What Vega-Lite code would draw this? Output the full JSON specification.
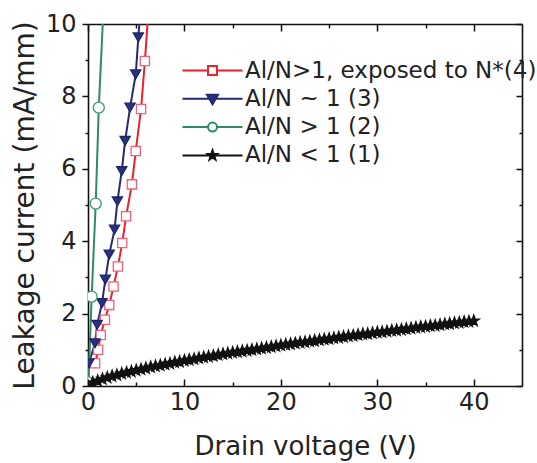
{
  "$schema": "https://vega.github.io/schema/vega-lite/v6.json",
  "width": 434,
  "height": 362,
  "autosize": "none",
  "padding": {"left": 88, "top": 24, "right": 15, "bottom": 77},
  "background": "white",
  "config": {
    "font": "DejaVu Sans",
    "view": {"stroke": null},
    "axis": {
      "grid": false,
      "domainColor": "#111",
      "domainWidth": 1.6,
      "tickColor": "#111",
      "tickWidth": 1.5,
      "labelColor": "#222",
      "labelFont": "DejaVu Sans",
      "labelFontSize": 24,
      "titleFont": "DejaVu Sans",
      "titleColor": "#222",
      "titleFontWeight": "normal",
      "labelFlush": false,
      "labelOverlap": false
    }
  },
  "datasets": {
    "curves": [
      {"series": "Al/N>1, exposed to N*(4)", "v": 0.74, "i": 0.63},
      {"series": "Al/N>1, exposed to N*(4)", "v": 1.05, "i": 1.0},
      {"series": "Al/N>1, exposed to N*(4)", "v": 1.32, "i": 1.41},
      {"series": "Al/N>1, exposed to N*(4)", "v": 1.75, "i": 1.83},
      {"series": "Al/N>1, exposed to N*(4)", "v": 2.2, "i": 2.24},
      {"series": "Al/N>1, exposed to N*(4)", "v": 2.65, "i": 2.75},
      {"series": "Al/N>1, exposed to N*(4)", "v": 3.1, "i": 3.3},
      {"series": "Al/N>1, exposed to N*(4)", "v": 3.55, "i": 3.95},
      {"series": "Al/N>1, exposed to N*(4)", "v": 3.95, "i": 4.69},
      {"series": "Al/N>1, exposed to N*(4)", "v": 4.55, "i": 5.57},
      {"series": "Al/N>1, exposed to N*(4)", "v": 4.95, "i": 6.49},
      {"series": "Al/N>1, exposed to N*(4)", "v": 5.5, "i": 7.65},
      {"series": "Al/N>1, exposed to N*(4)", "v": 5.9, "i": 8.98},
      {"series": "Al/N>1, exposed to N*(4)", "v": 6.3, "i": 10.5},
      {"series": "Al/N ~ 1 (3)", "v": 0.1, "i": 0.63},
      {"series": "Al/N ~ 1 (3)", "v": 0.72, "i": 1.18},
      {"series": "Al/N ~ 1 (3)", "v": 0.95, "i": 1.69},
      {"series": "Al/N ~ 1 (3)", "v": 1.45, "i": 2.29},
      {"series": "Al/N ~ 1 (3)", "v": 1.8, "i": 2.94},
      {"series": "Al/N ~ 1 (3)", "v": 2.2, "i": 3.63},
      {"series": "Al/N ~ 1 (3)", "v": 2.75, "i": 4.32},
      {"series": "Al/N ~ 1 (3)", "v": 3.05, "i": 5.1},
      {"series": "Al/N ~ 1 (3)", "v": 3.5, "i": 5.94},
      {"series": "Al/N ~ 1 (3)", "v": 3.85, "i": 6.77},
      {"series": "Al/N ~ 1 (3)", "v": 4.36, "i": 7.69},
      {"series": "Al/N ~ 1 (3)", "v": 4.95, "i": 8.61},
      {"series": "Al/N ~ 1 (3)", "v": 5.22, "i": 9.63},
      {"series": "Al/N ~ 1 (3)", "v": 5.5, "i": 10.6},
      {"series": "Al/N > 1 (2)", "v": 0.05, "i": 0.1},
      {"series": "Al/N > 1 (2)", "v": 0.38, "i": 2.47},
      {"series": "Al/N > 1 (2)", "v": 0.8, "i": 5.04},
      {"series": "Al/N > 1 (2)", "v": 1.12, "i": 7.69},
      {"series": "Al/N > 1 (2)", "v": 1.6, "i": 10.4},
      {"series": "Al/N < 1 (1)", "v": 0, "i": 0.0},
      {"series": "Al/N < 1 (1)", "v": 0.5, "i": 0.09},
      {"series": "Al/N < 1 (1)", "v": 1, "i": 0.14},
      {"series": "Al/N < 1 (1)", "v": 1.5, "i": 0.19},
      {"series": "Al/N < 1 (1)", "v": 2, "i": 0.23},
      {"series": "Al/N < 1 (1)", "v": 2.5, "i": 0.27},
      {"series": "Al/N < 1 (1)", "v": 3, "i": 0.3},
      {"series": "Al/N < 1 (1)", "v": 3.5, "i": 0.34},
      {"series": "Al/N < 1 (1)", "v": 4, "i": 0.37},
      {"series": "Al/N < 1 (1)", "v": 4.5, "i": 0.4},
      {"series": "Al/N < 1 (1)", "v": 5, "i": 0.43},
      {"series": "Al/N < 1 (1)", "v": 5.5, "i": 0.46},
      {"series": "Al/N < 1 (1)", "v": 6, "i": 0.49},
      {"series": "Al/N < 1 (1)", "v": 6.5, "i": 0.52},
      {"series": "Al/N < 1 (1)", "v": 7, "i": 0.55},
      {"series": "Al/N < 1 (1)", "v": 7.5, "i": 0.57},
      {"series": "Al/N < 1 (1)", "v": 8, "i": 0.6},
      {"series": "Al/N < 1 (1)", "v": 8.5, "i": 0.62},
      {"series": "Al/N < 1 (1)", "v": 9, "i": 0.65},
      {"series": "Al/N < 1 (1)", "v": 9.5, "i": 0.67},
      {"series": "Al/N < 1 (1)", "v": 10, "i": 0.7},
      {"series": "Al/N < 1 (1)", "v": 10.5, "i": 0.72},
      {"series": "Al/N < 1 (1)", "v": 11, "i": 0.74},
      {"series": "Al/N < 1 (1)", "v": 11.5, "i": 0.77},
      {"series": "Al/N < 1 (1)", "v": 12, "i": 0.79},
      {"series": "Al/N < 1 (1)", "v": 12.5, "i": 0.81},
      {"series": "Al/N < 1 (1)", "v": 13, "i": 0.83},
      {"series": "Al/N < 1 (1)", "v": 13.5, "i": 0.86},
      {"series": "Al/N < 1 (1)", "v": 14, "i": 0.88},
      {"series": "Al/N < 1 (1)", "v": 14.5, "i": 0.9},
      {"series": "Al/N < 1 (1)", "v": 15, "i": 0.92},
      {"series": "Al/N < 1 (1)", "v": 15.5, "i": 0.94},
      {"series": "Al/N < 1 (1)", "v": 16, "i": 0.96},
      {"series": "Al/N < 1 (1)", "v": 16.5, "i": 0.98},
      {"series": "Al/N < 1 (1)", "v": 17, "i": 1.0},
      {"series": "Al/N < 1 (1)", "v": 17.5, "i": 1.02},
      {"series": "Al/N < 1 (1)", "v": 18, "i": 1.04},
      {"series": "Al/N < 1 (1)", "v": 18.5, "i": 1.06},
      {"series": "Al/N < 1 (1)", "v": 19, "i": 1.08},
      {"series": "Al/N < 1 (1)", "v": 19.5, "i": 1.1},
      {"series": "Al/N < 1 (1)", "v": 20, "i": 1.12},
      {"series": "Al/N < 1 (1)", "v": 20.5, "i": 1.14},
      {"series": "Al/N < 1 (1)", "v": 21, "i": 1.16},
      {"series": "Al/N < 1 (1)", "v": 21.5, "i": 1.18},
      {"series": "Al/N < 1 (1)", "v": 22, "i": 1.2},
      {"series": "Al/N < 1 (1)", "v": 22.5, "i": 1.21},
      {"series": "Al/N < 1 (1)", "v": 23, "i": 1.23},
      {"series": "Al/N < 1 (1)", "v": 23.5, "i": 1.25},
      {"series": "Al/N < 1 (1)", "v": 24, "i": 1.27},
      {"series": "Al/N < 1 (1)", "v": 24.5, "i": 1.29},
      {"series": "Al/N < 1 (1)", "v": 25, "i": 1.3},
      {"series": "Al/N < 1 (1)", "v": 25.5, "i": 1.32},
      {"series": "Al/N < 1 (1)", "v": 26, "i": 1.34},
      {"series": "Al/N < 1 (1)", "v": 26.5, "i": 1.36},
      {"series": "Al/N < 1 (1)", "v": 27, "i": 1.38},
      {"series": "Al/N < 1 (1)", "v": 27.5, "i": 1.39},
      {"series": "Al/N < 1 (1)", "v": 28, "i": 1.41},
      {"series": "Al/N < 1 (1)", "v": 28.5, "i": 1.43},
      {"series": "Al/N < 1 (1)", "v": 29, "i": 1.44},
      {"series": "Al/N < 1 (1)", "v": 29.5, "i": 1.46},
      {"series": "Al/N < 1 (1)", "v": 30, "i": 1.48},
      {"series": "Al/N < 1 (1)", "v": 30.5, "i": 1.49},
      {"series": "Al/N < 1 (1)", "v": 31, "i": 1.51},
      {"series": "Al/N < 1 (1)", "v": 31.5, "i": 1.53},
      {"series": "Al/N < 1 (1)", "v": 32, "i": 1.54},
      {"series": "Al/N < 1 (1)", "v": 32.5, "i": 1.56},
      {"series": "Al/N < 1 (1)", "v": 33, "i": 1.58},
      {"series": "Al/N < 1 (1)", "v": 33.5, "i": 1.59},
      {"series": "Al/N < 1 (1)", "v": 34, "i": 1.61},
      {"series": "Al/N < 1 (1)", "v": 34.5, "i": 1.63},
      {"series": "Al/N < 1 (1)", "v": 35, "i": 1.64},
      {"series": "Al/N < 1 (1)", "v": 35.5, "i": 1.66},
      {"series": "Al/N < 1 (1)", "v": 36, "i": 1.67},
      {"series": "Al/N < 1 (1)", "v": 36.5, "i": 1.69},
      {"series": "Al/N < 1 (1)", "v": 37, "i": 1.71},
      {"series": "Al/N < 1 (1)", "v": 37.5, "i": 1.72},
      {"series": "Al/N < 1 (1)", "v": 38, "i": 1.74},
      {"series": "Al/N < 1 (1)", "v": 38.5, "i": 1.75},
      {"series": "Al/N < 1 (1)", "v": 39, "i": 1.77},
      {"series": "Al/N < 1 (1)", "v": 39.5, "i": 1.78},
      {"series": "Al/N < 1 (1)", "v": 40, "i": 1.8}
    ]
  },
  "data": {"name": "curves"},
  "resolve": {
    "scale": {"stroke": "independent", "fill": "independent", "shape": "independent", "size": "independent"},
    "axis": {"x": "independent", "y": "independent"}
  },
  "layer": [
    {
      "mark": {"type": "line", "clip": true, "strokeWidth": 2},
      "encoding": {
        "x": {
          "field": "v", "type": "quantitative",
          "scale": {"domain": [0, 45], "nice": false, "zero": false},
          "axis": {
            "orient": "bottom",
            "values": [0, 5, 10, 15, 20, 25, 30, 35, 40],
            "labelExpr": "datum.value % 10 === 0 ? datum.label : ''",
            "tickSize": {"condition": {"test": "datum.value % 10 === 0", "value": -7}, "value": -4},
            "labelPadding": 11,
            "title": "Drain voltage (V)",
            "titleFontSize": 26,
            "titlePadding": 16
          }
        },
        "y": {
          "field": "i", "type": "quantitative",
          "scale": {"domain": [0, 10], "nice": false},
          "axis": {
            "orient": "left",
            "values": [0, 1, 2, 3, 4, 5, 6, 7, 8, 9, 10],
            "labelExpr": "datum.value % 2 === 0 ? datum.label : ''",
            "tickSize": {"condition": {"test": "datum.value % 2 === 0", "value": 6}, "value": 3},
            "labelPadding": 6,
            "title": "Leakage current (mA/mm)",
            "titleFontSize": 28,
            "titlePadding": 6
          }
        },
        "stroke": {
          "field": "series", "type": "nominal",
          "scale": {
            "domain": ["Al/N>1, exposed to N*(4)", "Al/N ~ 1 (3)", "Al/N > 1 (2)", "Al/N < 1 (1)"],
            "range": ["#e8232a", "#262a6e", "#2e8b64", "#111111"]
          },
          "legend": null
        }
      }
    },
    {
      "mark": {"type": "point", "clip": true, "filled": true, "opacity": 1, "strokeWidth": 1.3},
      "encoding": {
        "x": {"field": "v", "type": "quantitative", "axis": null},
        "y": {"field": "i", "type": "quantitative", "axis": null},
        "shape": {
          "field": "series", "type": "nominal",
          "scale": {
            "domain": ["Al/N>1, exposed to N*(4)", "Al/N ~ 1 (3)", "Al/N > 1 (2)", "Al/N < 1 (1)"],
            "range": ["square", "triangle-down", "circle", "M0,-1L0.235,-0.324L0.951,-0.309L0.38,0.124L0.588,0.809L0,0.4L-0.588,0.809L-0.38,0.124L-0.951,-0.309L-0.235,-0.324Z"]
          },
          "legend": null
        },
        "fill": {
          "field": "series", "type": "nominal",
          "scale": {
            "domain": ["Al/N>1, exposed to N*(4)", "Al/N ~ 1 (3)", "Al/N > 1 (2)", "Al/N < 1 (1)"],
            "range": ["#ffffff", "#283180", "#ffffff", "#111111"]
          },
          "legend": null
        },
        "stroke": {
          "field": "series", "type": "nominal",
          "scale": {
            "domain": ["Al/N>1, exposed to N*(4)", "Al/N ~ 1 (3)", "Al/N > 1 (2)", "Al/N < 1 (1)"],
            "range": ["#f0607a", "#1e2466", "#3a9a70", "#111111"]
          },
          "legend": null
        },
        "size": {
          "field": "series", "type": "nominal",
          "scale": {
            "domain": ["Al/N>1, exposed to N*(4)", "Al/N ~ 1 (3)", "Al/N > 1 (2)", "Al/N < 1 (1)"],
            "range": [85, 140, 85, 115]
          },
          "legend": null
        }
      }
    },
    {
      "mark": {"type": "point", "filled": true, "opacity": 0},
      "encoding": {
        "x": {
          "field": "v", "type": "quantitative",
          "axis": {
            "orient": "top",
            "values": [0, 5, 10, 15, 20, 25, 30, 35, 40],
            "labels": false,
            "tickSize": {"condition": {"test": "datum.value % 10 === 0", "value": -7}, "value": -4},
            "title": null
          }
        },
        "y": {
          "field": "i", "type": "quantitative",
          "axis": {
            "orient": "right",
            "values": [0, 1, 2, 3, 4, 5, 6, 7, 8, 9, 10],
            "labels": false,
            "tickSize": {"condition": {"test": "datum.value % 2 === 0", "value": -6}, "value": -3},
            "title": null
          }
        },
        "shape": {
          "field": "series", "type": "nominal",
          "scale": {
            "domain": ["Al/N>1, exposed to N*(4)", "Al/N ~ 1 (3)", "Al/N > 1 (2)", "Al/N < 1 (1)"],
            "range": [
              "M-6,0H-0.9M0.9,0H6M-0.9,-0.9H0.9V0.9H-0.9Z",
              "M-6,0H6M-1.1,-0.8H1.1L0,1.1Z",
              "M-6,0H-0.9M0.9,0H6M0.9,0A0.9,0.9,0,1,1,-0.9,0A0.9,0.9,0,1,1,0.9,0Z",
              "M-6,0H6M0,-1L0.235,-0.324L0.951,-0.309L0.38,0.124L0.588,0.809L0,0.4L-0.588,0.809L-0.38,0.124L-0.951,-0.309L-0.235,-0.324Z"
            ]
          },
          "legend": {
            "orient": "none", "legendX": 113, "legendY": 35, "title": null,
            "symbolSize": 100, "symbolStrokeWidth": 2, "symbolOpacity": 1,
            "labelFontSize": 23, "labelFont": "DejaVu Sans", "labelColor": "#222", "labelLimit": 0,
            "labelOffset": 21, "rowPadding": 4.3, "padding": 0
          }
        },
        "fill": {
          "field": "series", "type": "nominal",
          "scale": {
            "domain": ["Al/N>1, exposed to N*(4)", "Al/N ~ 1 (3)", "Al/N > 1 (2)", "Al/N < 1 (1)"],
            "range": ["#ffffff", "#283180", "#ffffff", "#111111"]
          },
          "legend": {
            "orient": "none", "legendX": 113, "legendY": 35, "title": null,
            "symbolSize": 100, "symbolStrokeWidth": 2, "symbolOpacity": 1,
            "labelFontSize": 23, "labelFont": "DejaVu Sans", "labelColor": "#222", "labelLimit": 0,
            "labelOffset": 21, "rowPadding": 4.3, "padding": 0
          }
        },
        "stroke": {
          "field": "series", "type": "nominal",
          "scale": {
            "domain": ["Al/N>1, exposed to N*(4)", "Al/N ~ 1 (3)", "Al/N > 1 (2)", "Al/N < 1 (1)"],
            "range": ["#e8232a", "#262a6e", "#2e8b64", "#111111"]
          },
          "legend": {
            "orient": "none", "legendX": 113, "legendY": 35, "title": null,
            "symbolSize": 100, "symbolStrokeWidth": 2, "symbolOpacity": 1,
            "labelFontSize": 23, "labelFont": "DejaVu Sans", "labelColor": "#222", "labelLimit": 0,
            "labelOffset": 21, "rowPadding": 4.3, "padding": 0
          }
        }
      }
    }
  ]
}
